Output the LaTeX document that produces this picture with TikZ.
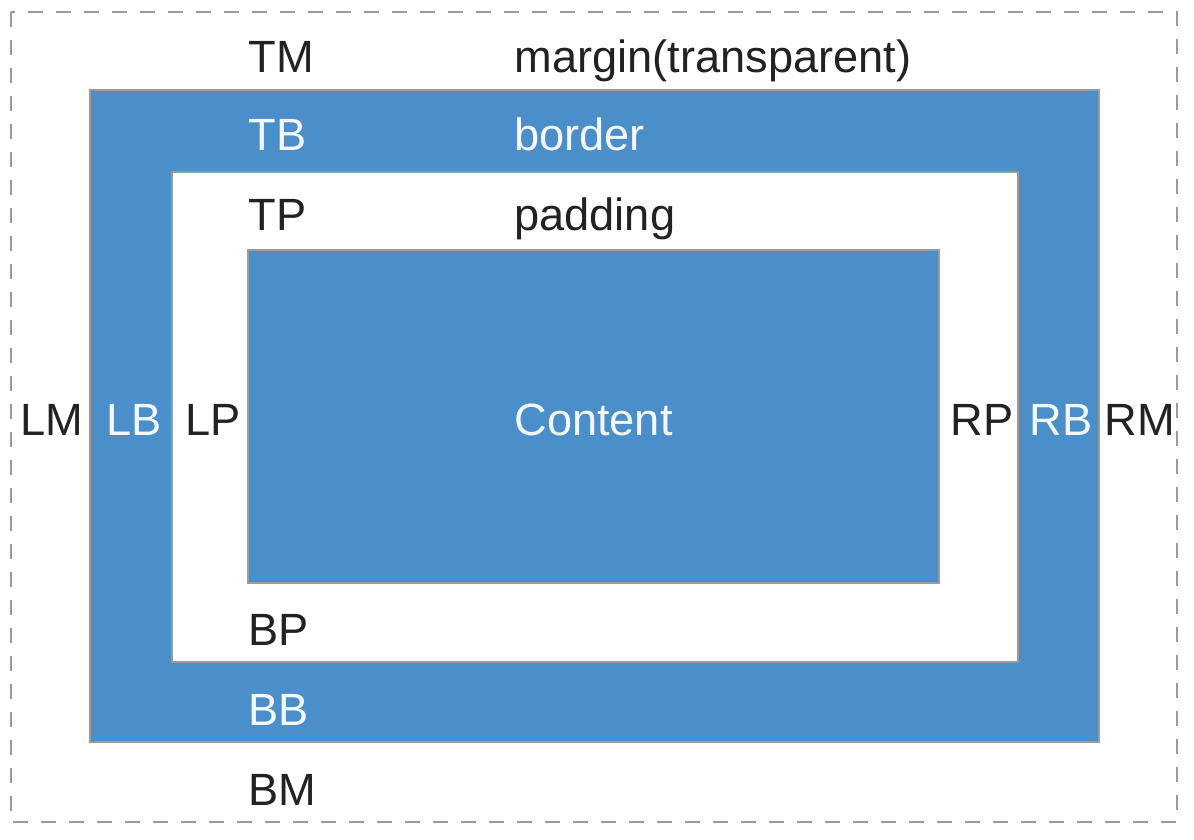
\documentclass[tikz,border=0pt]{standalone}
\usepackage{fontspec}
\setmainfont{Liberation Sans}
\definecolor{boxblue}{HTML}{4A8FC9}
\definecolor{edgegray}{HTML}{9A9A9A}
\definecolor{darktext}{HTML}{222222}
\definecolor{lighttext}{HTML}{F4F8FC}
\begin{document}
\begin{tikzpicture}[x=0.5pt,y=-0.5pt,
  lbl/.style={anchor=base west,inner sep=0pt,font=\fontsize{22.6}{27}\selectfont},
  dk/.style={lbl,text=darktext},
  lt/.style={lbl,text=lighttext},
  boxedge/.style={draw=edgegray,line width=1pt}]
\useasboundingbox (0,0) rectangle (1194,840);
\fill[white] (0,0) rectangle (1194,840);
\draw[edgegray,line width=1.3pt,dash pattern=on 7.5pt off 6.5pt] (11,12) rectangle (1177,822);
\draw[boxedge,fill=boxblue] (90,90) rectangle (1099,742);
\draw[boxedge,fill=white] (172,172) rectangle (1018,662);
\draw[boxedge,fill=boxblue] (248,250) rectangle (939,583);
\node[dk] (tm) at (248,73) {TM};
\node[dk] (margin) at (514,73) {margin(transparent)};
\node[lt] (tb) at (248,150) {TB};
\node[lt] (border) at (514,150) {border};
\node[dk] (tp) at (248,230) {TP};
\node[dk] (padding) at (514,230) {padding};
\node[lt] (content) at (514,435) {Content};
\node[dk] (lm) at (20,435) {LM};
\node[lt] (lb) at (106,435) {LB};
\node[dk] (lp) at (185,435) {LP};
\node[dk] (rp) at (950,435) {RP};
\node[lt] (rb) at (1029,435) {RB};
\node[dk] (rm) at (1104,435) {RM};
\node[dk] (bp) at (248,645) {BP};
\node[lt] (bb) at (248,725) {BB};
\node[dk] (bm) at (248,805) {BM};
\end{tikzpicture}
\end{document}
